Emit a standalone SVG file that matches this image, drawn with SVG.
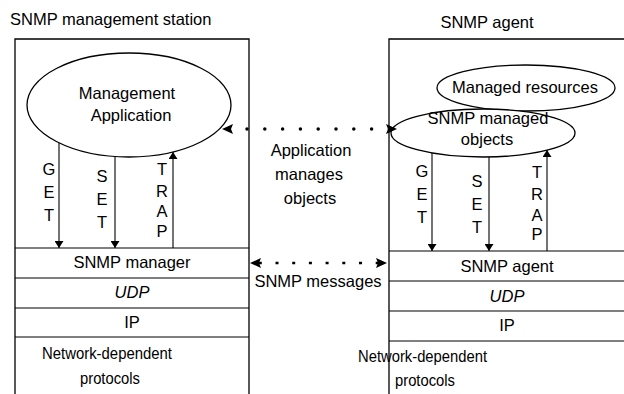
<svg xmlns="http://www.w3.org/2000/svg" width="624" height="394" viewBox="0 0 624 394">
<style>
text{font-family:"Liberation Sans",Arial,sans-serif;font-size:16.5px;fill:#000}
.c{text-anchor:middle}
.it{font-style:italic}
.box{fill:none;stroke:#000;stroke-width:1.3}
.lay{stroke:#000;stroke-width:1.2}
.ell{fill:#fff;stroke:#000;stroke-width:1.3}
.arr{stroke:#000;stroke-width:1.1;fill:none}
.dot{stroke:#000;fill:none}
</style>
<defs>
<marker id="sa" viewBox="0 0 7 9" refX="7" refY="4.5" markerWidth="7" markerHeight="9" markerUnits="userSpaceOnUse" orient="auto"><path d="M0,0 L7,4.5 L0,9 z" fill="#000"/></marker>
<marker id="ba" viewBox="0 0 11 10" refX="11" refY="5" markerWidth="11" markerHeight="10" markerUnits="userSpaceOnUse" orient="auto-start-reverse"><path d="M0,0 L11,5 L0,10 L2,5 z" fill="#000"/></marker>
</defs>

<g id="station">
<text x="10" y="25">SNMP management station</text>
<path class="box" d="M15,394 V39 H249 V394"/>
<line class="lay" x1="15" y1="248" x2="249" y2="248" stroke-width="1.8"/>
<line class="lay" x1="15" y1="278" x2="249" y2="278"/>
<line class="lay" x1="15" y1="308" x2="249" y2="308"/>
<line class="lay" x1="15" y1="337" x2="249" y2="337"/>
<text class="c" x="132" y="268">SNMP manager</text>
<text class="c it" x="132" y="298">UDP</text>
<text class="c" x="132" y="328">IP</text>
<text class="c" x="107" y="359" textLength="130" lengthAdjust="spacingAndGlyphs">Network-dependent</text>
<text class="c" x="110" y="384" textLength="60" lengthAdjust="spacingAndGlyphs">protocols</text>
</g>

<g id="mgmt-app">
<ellipse class="ell" cx="129" cy="105" rx="102" ry="52"/>
<text class="c" x="127" y="99">Management</text>
<text class="c" x="131" y="121">Application</text>
</g>

<g id="agent">
<text class="c" x="487" y="28">SNMP agent</text>
<path class="box" d="M389,394 V39 H624"/>
<line class="lay" x1="389" y1="251" x2="624" y2="251" stroke-width="1.8"/>
<line class="lay" x1="389" y1="281" x2="624" y2="281"/>
<line class="lay" x1="389" y1="311" x2="624" y2="311"/>
<line class="lay" x1="389" y1="341" x2="624" y2="341"/>
<text class="c" x="507" y="272">SNMP agent</text>
<text class="c it" x="507" y="302">UDP</text>
<text class="c" x="507" y="331">IP</text>
<text x="358" y="362" textLength="129" lengthAdjust="spacingAndGlyphs">Network-dependent</text>
<text x="395" y="386" textLength="60" lengthAdjust="spacingAndGlyphs">protocols</text>
</g>

<g id="resources">
<ellipse class="ell" cx="526" cy="88" rx="89" ry="23"/>
<text class="c" x="525" y="93">Managed resources</text>
</g>

<g id="objects">
<ellipse class="ell" cx="483" cy="133" rx="92" ry="24"/>
<text class="c" x="488" y="124">SNMP managed</text>
<text class="c" x="487" y="145">objects</text>
</g>

<g id="labels">
<text class="c" x="49" y="175">G</text>
<text class="c" x="49" y="198">E</text>
<text class="c" x="49" y="221">T</text>
<text class="c" x="102" y="182">S</text>
<text class="c" x="102" y="205">E</text>
<text class="c" x="102" y="228">T</text>
<text class="c" x="162" y="175">T</text>
<text class="c" x="162" y="197">R</text>
<text class="c" x="162" y="217">A</text>
<text class="c" x="162" y="237">P</text>
<text class="c" x="422" y="177">G</text>
<text class="c" x="422" y="200">E</text>
<text class="c" x="422" y="223">T</text>
<text class="c" x="477" y="187">S</text>
<text class="c" x="477" y="210">E</text>
<text class="c" x="477" y="233">T</text>
<text class="c" x="537" y="178">T</text>
<text class="c" x="537" y="200">R</text>
<text class="c" x="537" y="221">A</text>
<text class="c" x="537" y="240">P</text>
<text class="c" x="311" y="156">Application</text>
<text class="c" x="309" y="180">manages</text>
<text class="c" x="310" y="204">objects</text>
<text class="c" x="318" y="287">SNMP messages</text>
</g>

<g id="connectors">
<line class="arr" x1="59" y1="143" x2="59" y2="248" marker-end="url(#sa)"/>
<line class="arr" x1="115" y1="157" x2="115" y2="248" marker-end="url(#sa)"/>
<line class="arr" x1="173" y1="248" x2="173" y2="152" marker-end="url(#sa)"/>
<line class="arr" x1="432" y1="153" x2="432" y2="251" marker-end="url(#sa)"/>
<line class="arr" x1="489" y1="157" x2="489" y2="251" marker-end="url(#sa)"/>
<line class="arr" x1="547" y1="251" x2="547" y2="150" marker-end="url(#sa)"/>
<path class="dot" d="M222,129 H397" stroke-width="3.5" stroke-linecap="round" stroke-dasharray="0 17.8" stroke-dashoffset="10.6" marker-start="url(#ba)" marker-end="url(#ba)"/>
<path class="dot" d="M250,263 H387" stroke-width="2.5" stroke-dasharray="3 13.7" stroke-dashoffset="7.9" marker-start="url(#ba)" marker-end="url(#ba)"/>
</g>
</svg>
